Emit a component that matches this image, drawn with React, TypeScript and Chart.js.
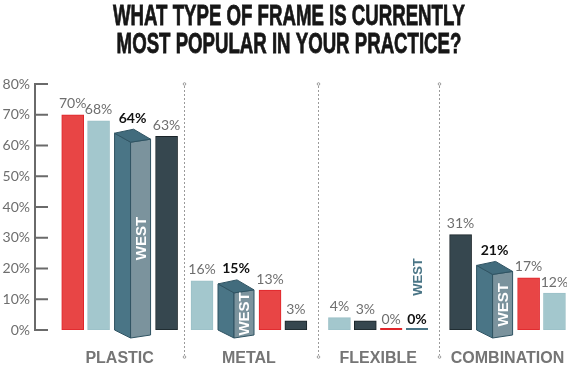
import React, { useEffect, useRef } from 'react';
import { Chart, registerables } from 'chart.js';

Chart.register(...registerables);

// ---------- data ----------
const titleLines = ['WHAT TYPE OF FRAME IS CURRENTLY', 'MOST POPULAR IN YOUR PRACTICE?'];
const categories = ['PLASTIC', 'METAL', 'FLEXIBLE', 'COMBINATION'];
const yMin = 0;
const yMax = 80;
const yStep = 10;
const redValues = [70, 13, 0, 17];
const lightValues = [68, 16, 4, 12];
const westValues = [64, 15, 0, 21];
const slateValues = [63, 3, 3, 31];
const westLabel = 'WEST';

// ---------- styles ----------
const SERIES = [
  { key: 'red', values: redValues, fill: '#e84545', border: '#e0252a' },
  { key: 'light', values: lightValues, fill: '#a3c7cd', border: '#9bc0c7' },
  { key: 'west', values: westValues, fill: '#4a7586', border: '#2f5362' },
  { key: 'slate', values: slateValues, fill: '#36474f', border: '#1a2429' },
];
const WEST_SIDE = '#4a7586';
const WEST_FRONT = '#7b939d';
const WEST_TOP = '#426c7d';
const WEST_EDGE = '#2f5362';
const GRAY_TEXT = '#6e6e6e';
const LABEL_FONT = 'Lato, "Open Sans", sans-serif';
const NARROW_FONT = '"Liberation Sans Narrow", "Liberation Sans", Arial, sans-serif';
const BAR_PX = 22;
const BOX_HALF = 18;
const NARROW_PITCH = 0.2; // in category units
const WIDE_PITCH = 0.263;
const X_MIN = -0.5;
const X_MAX = 3.46;

const isWide = (si: number, c: number) => SERIES[si].key === 'west' && SERIES[si].values[c] > 0;

// order of series inside each category: descending value (stable)
const order = categories.map((_, c) =>
  SERIES.map((_, i) => i).sort((a, b) => SERIES[b].values[c] - SERIES[a].values[c])
);
// x position (category units) of each series bar in each category
const positions: number[][] = SERIES.map(() => categories.map(() => 0));
categories.forEach((_, c) => {
  const ord = order[c];
  const cum: number[] = [0];
  for (let k = 1; k < ord.length; k++) {
    const wide = isWide(ord[k - 1], c) || isWide(ord[k], c);
    cum.push(cum[k - 1] + (wide ? WIDE_PITCH : NARROW_PITCH));
  }
  const shift = cum[cum.length - 1] / 2;
  ord.forEach((si, k) => {
    positions[si][c] = c + cum[k] - shift;
  });
});

const datasets = SERIES.map((s, si) => ({
  label: s.key,
  data: categories.map((_, c) => ({ x: positions[si][c], y: s.values[c] })),
  backgroundColor: s.key === 'west' ? 'rgba(0,0,0,0)' : s.fill,
  borderColor: s.key === 'west' ? 'rgba(0,0,0,0)' : s.border,
  borderWidth: 1,
  borderSkipped: false as const,
  barThickness: BAR_PX,
  grouped: false,
}));

function drawWestText(ctx: CanvasRenderingContext2D, text: string, cx: number, cy: number, font: string, color: string) {
  ctx.save();
  ctx.translate(cx, cy);
  ctx.rotate(-Math.PI / 2);
  ctx.font = font;
  ctx.fillStyle = color;
  ctx.textAlign = 'center';
  ctx.textBaseline = 'middle';
  ctx.fillText(text, 0, 1);
  ctx.restore();
}

const framePlugin = {
  id: 'framePlugin',
  beforeDatasetsDraw(chart: any) {
    const ctx: CanvasRenderingContext2D = chart.ctx;
    const { chartArea, scales } = chart;
    const y = scales.y;
    // custom y axis line with inward ticks
    const ax = chartArea.left - 20;
    ctx.save();
    ctx.strokeStyle = '#6a6a6a';
    ctx.lineWidth = 2;
    ctx.beginPath();
    ctx.moveTo(ax, y.getPixelForValue(yMax) - 1);
    ctx.lineTo(ax, y.getPixelForValue(yMin) + 1);
    ctx.stroke();
    for (let v = yMin; v <= yMax; v += yStep) {
      const py = y.getPixelForValue(v);
      ctx.beginPath();
      ctx.moveTo(ax, py);
      ctx.lineTo(ax + 13, py);
      ctx.stroke();
    }
    // group extents from the bar elements
    const ext = categories.map(() => ({ l: Infinity, r: -Infinity }));
    SERIES.forEach((s, si) => {
      const meta = chart.getDatasetMeta(si);
      meta.data.forEach((el: any, c: number) => {
        const half = isWide(si, c) ? BOX_HALF : el.width / 2;
        ext[c].l = Math.min(ext[c].l, el.x - half);
        ext[c].r = Math.max(ext[c].r, el.x + half);
      });
    });
    // dotted separators between groups
    ctx.strokeStyle = '#9a9a9a';
    ctx.lineWidth = 1;
    const top = y.getPixelForValue(yMax);
    const bottom = chartArea.bottom + 27;
    for (let i = 0; i < categories.length - 1; i++) {
      const sx = Math.round((ext[i].r + ext[i + 1].l) / 2) + 0.5;
      ctx.setLineDash([2, 2]);
      ctx.beginPath();
      ctx.moveTo(sx, top + 2);
      ctx.lineTo(sx, bottom - 2);
      ctx.stroke();
      ctx.setLineDash([]);
      ctx.beginPath();
      ctx.arc(sx, top, 1.3, 0, Math.PI * 2);
      ctx.stroke();
      ctx.beginPath();
      ctx.arc(sx, bottom, 1.3, 0, Math.PI * 2);
      ctx.stroke();
    }
    ctx.restore();
  },
  afterDatasetsDraw(chart: any) {
    const ctx: CanvasRenderingContext2D = chart.ctx;
    SERIES.forEach((s, si) => {
      const meta = chart.getDatasetMeta(si);
      meta.data.forEach((el: any, c: number) => {
        const v = s.values[c];
        const p = el.getProps(['x', 'y', 'base', 'width'], true);
        const isWest = s.key === 'west';
        let labelBottom = p.y - 4;
        ctx.save();
        if (v === 0) {
          ctx.strokeStyle = isWest ? WEST_SIDE : s.border;
          ctx.lineWidth = 2;
          ctx.beginPath();
          ctx.moveTo(p.x - p.width / 2, p.base - 1);
          ctx.lineTo(p.x + p.width / 2, p.base - 1);
          ctx.stroke();
          labelBottom = p.base - 4;
          if (isWest) {
            drawWestText(ctx, westLabel, p.x, p.base - 53, 'bold 13px ' + NARROW_FONT, WEST_SIDE);
          }
        } else if (isWest) {
          const L = p.x - BOX_HALF;
          const M = L + 16;
          const R = p.x + BOX_HALF;
          const yv = p.y;
          const b = p.base;
          ctx.lineWidth = 1;
          ctx.strokeStyle = WEST_EDGE;
          ctx.lineJoin = 'round';
          // side face
          ctx.fillStyle = WEST_SIDE;
          ctx.beginPath();
          ctx.moveTo(L, yv);
          ctx.lineTo(M, yv + 9);
          ctx.lineTo(M, b + 8);
          ctx.lineTo(L, b);
          ctx.closePath();
          ctx.fill();
          ctx.stroke();
          // front face
          ctx.fillStyle = WEST_FRONT;
          ctx.beginPath();
          ctx.moveTo(M, yv + 9);
          ctx.lineTo(R, yv + 6);
          ctx.lineTo(R, b + 5);
          ctx.lineTo(M, b + 8);
          ctx.closePath();
          ctx.fill();
          ctx.stroke();
          // top face
          ctx.fillStyle = WEST_TOP;
          ctx.beginPath();
          ctx.moveTo(L, yv);
          ctx.lineTo(L + 19, yv - 4);
          ctx.lineTo(R, yv + 6);
          ctx.lineTo(M, yv + 9);
          ctx.closePath();
          ctx.fill();
          ctx.stroke();
          const frontTop = yv + 8;
          const frontBottom = b + 6;
          drawWestText(ctx, westLabel, (M + R) / 2, (frontTop + frontBottom) / 2, 'bold 15px ' + NARROW_FONT, '#ffffff');
          labelBottom = yv - 8;
        }
        // value label
        ctx.font = (isWest ? 'bold ' : '') + '14px ' + LABEL_FONT;
        ctx.fillStyle = isWest ? '#111111' : GRAY_TEXT;
        ctx.textAlign = 'center';
        ctx.textBaseline = 'bottom';
        ctx.fillText(v + '%', p.x, labelBottom);
        ctx.restore();
      });
    });
  },
  afterDraw(chart: any) {
    const ctx: CanvasRenderingContext2D = chart.ctx;
    ctx.save();
    ctx.font = 'bold 29px ' + NARROW_FONT;
    ctx.fillStyle = '#161616';
    ctx.strokeStyle = '#161616';
    ctx.lineWidth = 0.8;
    ctx.textAlign = 'center';
    ctx.textBaseline = 'alphabetic';
    const w1 = ctx.measureText(titleLines[0]).width;
    const sx = 352 / w1;
    titleLines.forEach((line, i) => {
      ctx.save();
      ctx.translate(289, 25 + i * 28);
      ctx.scale(sx, 1);
      ctx.fillText(line, 0, 0);
      ctx.strokeText(line, 0, 0);
      ctx.restore();
    });
    ctx.restore();
  },
};

export default function App() {
  const ref = useRef<HTMLCanvasElement | null>(null);
  useEffect(() => {
    if (!ref.current) return;
    const chart = new Chart(ref.current, {
      type: 'bar',
      data: { datasets },
      options: {
        responsive: false,
        animation: false,
        layout: { padding: { top: 84, right: 0, bottom: 0, left: 0 } },
        plugins: {
          legend: { display: false },
          tooltip: { enabled: false },
          title: { display: false },
        },
        scales: {
          x: {
            type: 'linear',
            min: X_MIN,
            max: X_MAX,
            offset: false,
            grid: { display: false, drawTicks: false },
            border: { display: false },
            afterBuildTicks: (scale: any) => {
              scale.ticks = categories.map((_, i) => ({ value: i }));
            },
            ticks: {
              color: '#757575',
              padding: 19,
              font: { family: '"Liberation Sans", Arial, sans-serif', size: 16, weight: 'bold' },
              maxRotation: 0,
              autoSkip: false,
              callback: (v: any) => categories[Math.round(v)] ?? '',
            },
            afterFit: (scale: any) => {
              scale.height = 36;
              scale.paddingLeft = 0;
              scale.paddingRight = 0;
            },
          },
          y: {
            min: yMin,
            max: yMax,
            grid: { display: false, drawTicks: false },
            border: { display: false },
            ticks: {
              stepSize: yStep,
              color: GRAY_TEXT,
              padding: 25,
              font: { family: LABEL_FONT, size: 14 },
              callback: (v: any) => v + '%',
            },
            afterFit: (scale: any) => {
              scale.width = 55;
            },
          },
        },
      },
      plugins: [framePlugin],
    });
    return () => chart.destroy();
  }, []);
  return (
    <div style={{ position: 'fixed', left: 0, top: 0, width: 567, height: 366, background: '#ffffff' }}>
      <canvas ref={ref} width={567} height={366} />
    </div>
  );
}
